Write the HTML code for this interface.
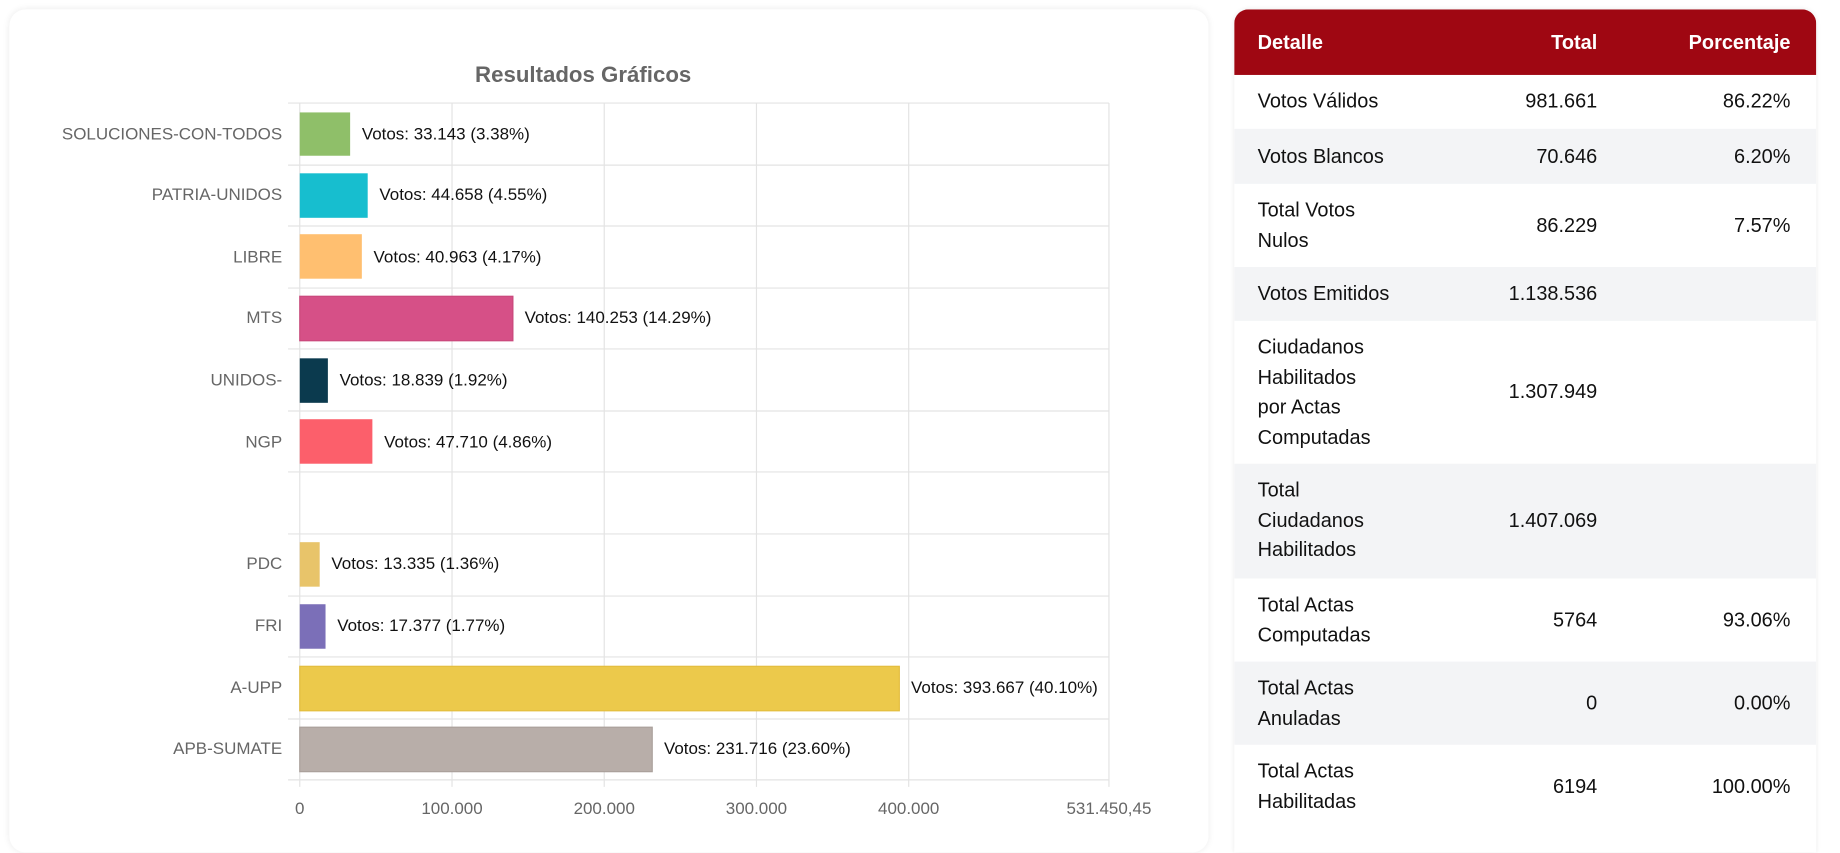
<!DOCTYPE html>
<html><head><meta charset="utf-8"><style>
html,body{margin:0;padding:0;background:#fff;width:1840px;height:819px;overflow:hidden}
#w{position:absolute;left:0;top:0;width:1572px;height:700px;transform:scale(1.171);transform-origin:0 0;font-family:"Liberation Sans",Arial,sans-serif}
.card{position:absolute;left:8px;top:8px;width:1024px;height:720px;border-radius:14px;box-shadow:0 0 6px rgba(0,0,0,0.08);background:#fff}
.tbl{position:absolute;left:1054px;top:8px;width:497px;height:720px;border-radius:12px 12px 0 0;overflow:hidden;box-shadow:0 0 4px rgba(0,0,0,0.08)}
.r{position:absolute;left:0;width:497px;font-size:17px;color:#111;line-height:25.6px}
.r .a{position:absolute;left:20px;width:150px}
.r .b{position:absolute;right:187px;text-align:right}
.r .c{position:absolute;right:22px;text-align:right}
.h{background:#9f0712;color:#fff;font-weight:bold}
.g{background:#f3f4f6}
</style></head><body><div id="w">
<div class="card"></div>
<svg style="position:absolute;left:0;top:0" width="1040" height="700" font-family="Liberation Sans, Arial, sans-serif">
<text x="498" y="70" text-anchor="middle" font-size="19" font-weight="bold" fill="#666">Resultados Gráficos</text>
<g stroke="#e3e3e3" stroke-width="1">
<line x1="256" y1="88" x2="256" y2="672"/><line x1="386" y1="88" x2="386" y2="672"/><line x1="516" y1="88" x2="516" y2="672"/><line x1="646" y1="88" x2="646" y2="672"/><line x1="776" y1="88" x2="776" y2="672"/><line x1="947" y1="88" x2="947" y2="672"/>
<line x1="246" y1="88" x2="947" y2="88"/><line x1="246" y1="141" x2="947" y2="141"/><line x1="246" y1="193" x2="947" y2="193"/><line x1="246" y1="246" x2="947" y2="246"/><line x1="246" y1="298" x2="947" y2="298"/><line x1="246" y1="351" x2="947" y2="351"/><line x1="246" y1="403" x2="947" y2="403"/><line x1="246" y1="456" x2="947" y2="456"/><line x1="246" y1="509" x2="947" y2="509"/><line x1="246" y1="561" x2="947" y2="561"/><line x1="246" y1="614" x2="947" y2="614"/><line x1="246" y1="666" x2="947" y2="666"/>
</g>
<g font-size="14.5" fill="#666" text-anchor="end">
<text x="241" y="119">SOLUCIONES-CON-TODOS</text><text x="241" y="171">PATRIA-UNIDOS</text><text x="241" y="224">LIBRE</text><text x="241" y="276">MTS</text><text x="241" y="329">UNIDOS-</text><text x="241" y="382">NGP</text><text x="241" y="486">PDC</text><text x="241" y="539">FRI</text><text x="241" y="592">A-UPP</text><text x="241" y="644">APB-SUMATE</text>
</g>
<g>
<rect x="256" y="96" width="43" height="37" fill="#8fbf69"/>
<rect x="256" y="148" width="58" height="38" fill="#17becf"/>
<rect x="256" y="200" width="53" height="38" fill="#ffbf70"/>
<rect x="256" y="253" width="182" height="38" fill="#d65087" stroke="#c9487b"/>
<rect x="256" y="306" width="24" height="38" fill="#0b3a4e"/>
<rect x="256" y="358" width="62" height="38" fill="#fc5f6b"/>
<rect x="256" y="463" width="17" height="38" fill="#e8c46a"/>
<rect x="256" y="516" width="22" height="38" fill="#7b6fb8"/>
<rect x="256" y="569" width="512" height="38" fill="#ecc94b" stroke="#e3bd3e"/>
<rect x="256" y="621" width="301" height="38" fill="#b8aea9" stroke="#aaa09b"/>
</g>
<g font-size="14.5" fill="#111">
<text x="309" y="119">Votos: 33.143 (3.38%)</text><text x="324" y="171">Votos: 44.658 (4.55%)</text><text x="319" y="224">Votos: 40.963 (4.17%)</text><text x="448" y="276">Votos: 140.253 (14.29%)</text><text x="290" y="329">Votos: 18.839 (1.92%)</text><text x="328" y="382">Votos: 47.710 (4.86%)</text><text x="283" y="486">Votos: 13.335 (1.36%)</text><text x="288" y="539">Votos: 17.377 (1.77%)</text><text x="778" y="592">Votos: 393.667 (40.10%)</text><text x="567" y="644">Votos: 231.716 (23.60%)</text>
</g>
<g font-size="14.5" fill="#666" text-anchor="middle">
<text x="256" y="695">0</text><text x="386" y="695">100.000</text><text x="516" y="695">200.000</text><text x="646" y="695">300.000</text><text x="776" y="695">400.000</text><text x="947" y="695">531.450,45</text>
</g>
</svg>
<div class="tbl">
<div class="r h" style="top:0;height:56px"><span class="a" style="top:16px">Detalle</span><span class="b" style="top:16px">Total</span><span class="c" style="top:16px">Porcentaje</span></div>
<div class="r" style="top:56px;height:46px"><span class="a" style="top:10px">Votos Válidos</span><span class="b" style="top:10px">981.661</span><span class="c" style="top:10px">86.22%</span></div>
<div class="r g" style="top:102px;height:47px"><span class="a" style="top:11px">Votos Blancos</span><span class="b" style="top:11px">70.646</span><span class="c" style="top:11px">6.20%</span></div>
<div class="r" style="top:149px;height:71px"><span class="a" style="top:10px">Total Votos<br>Nulos</span><span class="b" style="top:23px">86.229</span><span class="c" style="top:23px">7.57%</span></div>
<div class="r g" style="top:220px;height:46px"><span class="a" style="top:10px">Votos Emitidos</span><span class="b" style="top:10px">1.138.536</span></div>
<div class="r" style="top:266px;height:122px"><span class="a" style="top:10px">Ciudadanos<br>Habilitados<br>por Actas<br>Computadas</span><span class="b" style="top:48px">1.307.949</span></div>
<div class="r g" style="top:388px;height:98px"><span class="a" style="top:10px">Total<br>Ciudadanos<br>Habilitados</span><span class="b" style="top:36px">1.407.069</span></div>
<div class="r" style="top:486px;height:71px"><span class="a" style="top:10px">Total Actas<br>Computadas</span><span class="b" style="top:23px">5764</span><span class="c" style="top:23px">93.06%</span></div>
<div class="r g" style="top:557px;height:71px"><span class="a" style="top:10px">Total Actas<br>Anuladas</span><span class="b" style="top:23px">0</span><span class="c" style="top:23px">0.00%</span></div>
<div class="r" style="top:628px;height:80px"><span class="a" style="top:10px">Total Actas<br>Habilitadas</span><span class="b" style="top:23px">6194</span><span class="c" style="top:23px">100.00%</span></div>
</div>
</div></body></html>
